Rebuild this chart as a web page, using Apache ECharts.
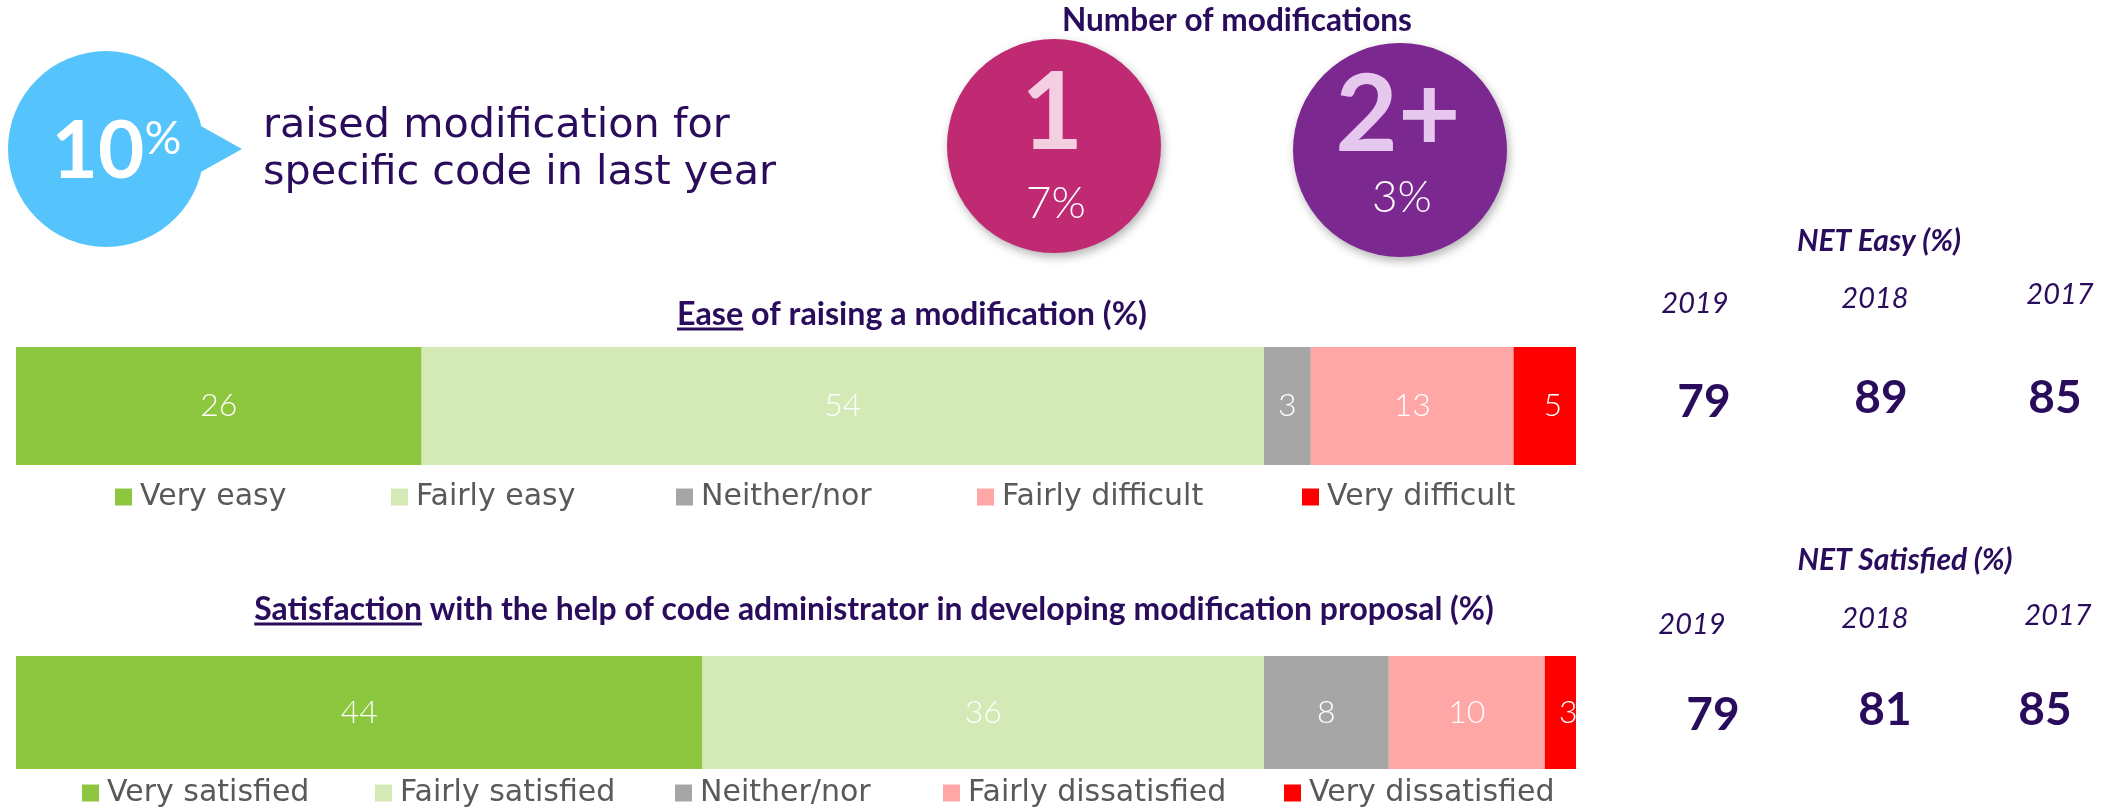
<!DOCTYPE html>
<html>
<head>
<meta charset="utf-8">
<script src="https://cdn.jsdelivr.net/npm/echarts@6/dist/echarts.min.js"></script>
<style>
  html, body { margin: 0; padding: 0; background: #fff; }
  #chart { width: 2118px; height: 811px; }
</style>
</head>
<body>
<div id="chart"></div>
<script>
// 数値データ
const raisedShare = 10;
const modCategories = ['1', '2+'];
const modShares = [7, 3];

const easeCategories = ['Very easy', 'Fairly easy', 'Neither/nor', 'Fairly difficult', 'Very difficult'];
const easeValues = [26, 54, 3, 13, 5];

const satCategories = ['Very satisfied', 'Fairly satisfied', 'Neither/nor', 'Fairly dissatisfied', 'Very dissatisfied'];
const satValues = [44, 36, 8, 10, 3];

const netYears = ['2019', '2018', '2017'];
const netEasy = [79, 89, 85];
const netSatisfied = [79, 81, 85];

// 見た目の設定
const segColors = ['#8dc63f', '#d3e9b6', '#a6a6a6', '#ffa6a6', '#ff0000'];
const purple = '#2a0c5c';
const FONT = 'Lato, "Noto Sans", sans-serif';
const WIDE = '"DejaVu Sans", sans-serif';

const chart = echarts.init(document.querySelector('#chart'));

// 文字幅を測る
const ctx = document.createElement('canvas').getContext('2d');
function textWidth(text, font) {
  ctx.font = font;
  return ctx.measureText(text).width;
}
// 指定した幅に収まる文字サイズを求める
function fitSize(text, prefix, family, target) {
  return 100 * target / textWidth(text, prefix + ' 100px ' + family);
}

// 積み上げ横棒を作る
function barSeries(names, values, gridIndex) {
  return names.map((name, i) => ({
    name: name,
    type: 'bar',
    xAxisIndex: gridIndex,
    yAxisIndex: gridIndex,
    stack: 'total' + gridIndex,
    barWidth: '100%',
    data: [values[i]],
    itemStyle: { color: segColors[i] },
    label: {
      show: true,
      position: 'inside',
      color: '#fff',
      fontSize: 32,
      fontWeight: 300,
      fontFamily: FONT,
      // 最後の区分は100%で切れるので中心を少し右へ
      offset: i === names.length - 1 ? [8, 0] : [0, 0]
    },
    emphasis: { disabled: true }
  }));
}

// 凡例は項目ごとに位置を決める
function legends(names, xs, top) {
  return names.map((name, i) => ({
    data: [name],
    left: xs[i],
    top: top,
    padding: 0,
    icon: 'rect',
    itemWidth: 17,
    itemHeight: 17,
    selectedMode: false,
    textStyle: { color: '#595959', fontSize: 30, fontFamily: WIDE, padding: [0, 0, 0, 3] }
  }));
}

// 下線つきの見出し
function underlinedTitle(head, rest, cx, cy, target) {
  const size = fitSize(head + rest, 'bold', FONT, target);
  const font = 'bold ' + size.toFixed(2) + 'px ' + FONT;
  const w = textWidth(head + rest, font);
  const hw = textWidth(head, font);
  const left = cx - w / 2;
  return [
    { type: 'text', x: left, y: cy, style: { text: head + rest, font: font, fill: purple, align: 'left', verticalAlign: 'middle' } },
    { type: 'line', shape: { x1: left, y1: cy + 14, x2: left + hw, y2: cy + 14 }, style: { stroke: purple, lineWidth: 3 } }
  ];
}

const graphics = [];

// 左上の吹き出し
graphics.push({ type: 'polygon', shape: { points: [[190, 120], [242, 149], [190, 178]] }, style: { fill: '#55c3fc' } });
graphics.push({ type: 'circle', shape: { cx: 106, cy: 149, r: 98 }, style: { fill: '#55c3fc' } });
graphics.push({ type: 'text', x: 98, y: 152, style: { text: String(raisedShare), font: 'bold 80px ' + FONT, fill: '#fff', align: 'center', verticalAlign: 'middle' } });
graphics.push({ type: 'text', x: 163, y: 139, style: { text: '%', font: '46px ' + FONT, fill: '#fff', align: 'center', verticalAlign: 'middle' } });
const raisedSize = fitSize('specific code in last year', '', WIDE, 513).toFixed(2);
graphics.push({ type: 'text', x: 263, y: 126, style: { text: 'raised modification for', font: raisedSize + 'px ' + WIDE, fill: purple, align: 'left', verticalAlign: 'middle' } });
graphics.push({ type: 'text', x: 263, y: 173, style: { text: 'specific code in last year', font: raisedSize + 'px ' + WIDE, fill: purple, align: 'left', verticalAlign: 'middle' } });

// 修正回数の円
const modTitleSize = fitSize('Number of modifications', 'bold', FONT, 350).toFixed(2);
graphics.push({ type: 'text', x: 1237, y: 21, style: { text: 'Number of modifications', font: 'bold ' + modTitleSize + 'px ' + FONT, fill: purple, align: 'center', verticalAlign: 'middle' } });
const modCircles = [
  { cx: 1054, cy: 146, fill: '#bf2a73', numColor: '#f4cfe2', numY: 114, pctY: 204 },
  { cx: 1400, cy: 150, fill: '#7c2891', numColor: '#e6c7ee', numY: 116, pctY: 198 }
];
modCategories.forEach((cat, i) => {
  const c = modCircles[i];
  graphics.push({
    type: 'circle', shape: { cx: c.cx, cy: c.cy, r: 107 },
    style: { fill: c.fill, shadowBlur: 10, shadowOffsetX: 2, shadowOffsetY: 4, shadowColor: 'rgba(0,0,0,0.3)' }
  });
  graphics.push({ type: 'text', x: c.cx - 2, y: c.numY, style: { text: cat, font: 'bold 108px ' + FONT, fill: c.numColor, align: 'center', verticalAlign: 'middle' } });
  graphics.push({ type: 'text', x: c.cx + 2, y: c.pctY, style: { text: modShares[i] + '%', font: '300 44px ' + FONT, fill: '#fff', align: 'center', verticalAlign: 'middle' } });
});

// 棒グラフの見出し
graphics.push(...underlinedTitle('Ease', ' of raising a modification (%)', 912, 315, 470));
graphics.push(...underlinedTitle('Satisfaction', ' with the help of code administrator in developing modification proposal (%)', 874, 610, 1240));

// 右側のNET値
function netBlock(title, titleX, titleY, yearPos, valuePos, values) {
  graphics.push({ type: 'text', x: titleX, y: titleY, style: { text: title, font: 'italic bold 30px ' + FONT, fill: purple, align: 'center', verticalAlign: 'middle' } });
  netYears.forEach((yr, i) => {
    graphics.push({ type: 'text', x: yearPos[i][0], y: yearPos[i][1], style: { text: yr, font: 'italic 29px ' + FONT, fill: purple, align: 'center', verticalAlign: 'middle' } });
    graphics.push({ type: 'text', x: valuePos[i][0], y: valuePos[i][1], style: { text: String(values[i]), font: 'bold 46px ' + FONT, fill: purple, align: 'center', verticalAlign: 'middle' } });
  });
}
netBlock('NET Easy (%)', 1879, 241, [[1695, 304], [1875, 299], [2060, 295]], [[1704, 402], [1881, 398], [2055, 398]], netEasy);
netBlock('NET Satisfied (%)', 1905, 560, [[1692, 625], [1875, 619], [2058, 616]], [[1713, 715], [1885, 710], [2045, 710]], netSatisfied);

const option = {
  animation: false,
  grid: [
    { left: 16, top: 347, width: 1560, height: 118 },
    { left: 16, top: 656, width: 1560, height: 113 }
  ],
  xAxis: [
    { gridIndex: 0, type: 'value', min: 0, max: 100, show: false },
    { gridIndex: 1, type: 'value', min: 0, max: 100, show: false }
  ],
  yAxis: [
    { gridIndex: 0, type: 'category', data: ['Ease'], show: false },
    { gridIndex: 1, type: 'category', data: ['Satisfaction'], show: false }
  ],
  legend: [
    ...legends(easeCategories, [115, 391, 676, 977, 1302], 482),
    ...legends(satCategories, [82, 375, 675, 943, 1284], 778)
  ],
  series: [
    ...barSeries(easeCategories, easeValues, 0),
    ...barSeries(satCategories, satValues, 1)
  ],
  graphic: { elements: graphics }
};

chart.setOption(option);
</script>
</body>
</html>
